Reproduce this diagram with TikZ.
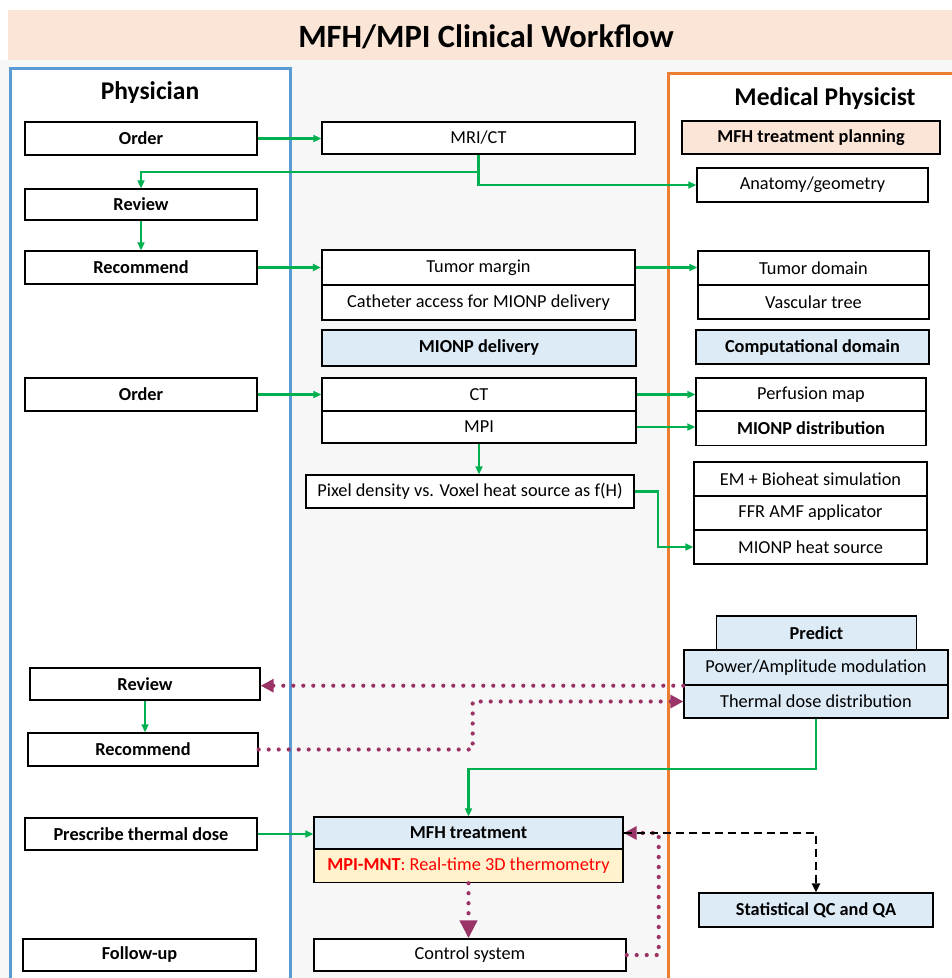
\documentclass[tikz,border=0pt]{standalone}
\usepackage{fontspec}
\setmainfont{Carlito}
\usetikzlibrary{arrows.meta,calc}
\definecolor{peach}{HTML}{FBE5D6}
\definecolor{lblue}{HTML}{DDEBF7}
\definecolor{lyel}{HTML}{FFF2CC}
\definecolor{colblue}{HTML}{5B9BD5}
\definecolor{colorange}{HTML}{ED7D31}
\definecolor{gline}{HTML}{00B050}
\definecolor{pline}{HTML}{9B3466}
\definecolor{bggray}{HTML}{F7F7F7}
\tikzset{
  box/.style={draw=black, line width=1.4pt, fill=white, inner sep=0pt, font=\fontsize{18.3}{20}\selectfont},
  bbox/.style={box, font=\fontsize{18.3}{20}\selectfont\bfseries},
  garrow/.style={draw=gline, line width=2.2pt, -{Triangle[length=8pt,width=7pt]}},
  parrow/.style={draw=pline, line width=4.2pt, line cap=round, dash pattern=on 0pt off 10pt, -{Triangle[length=13pt,width=13pt]}},
  darrow/.style={draw=black, line width=2.2pt, dash pattern=on 8pt off 5pt, -{Triangle[length=9pt,width=8pt]}}
}
\begin{document}
\begin{tikzpicture}[x=1pt,y=-1pt]
\useasboundingbox (0,0) rectangle (952,978);
\fill[white] (0,0) rectangle (952,978);
\fill[bggray] (0,60) rectangle (952,978);
\fill[peach] (8,10) rectangle (952,60);
\node[font=\fontsize{32.5}{36}\selectfont\bfseries] (title) at (486,37) {MFH/MPI Clinical Workflow};
% columns
\fill[white] (10,68) rectangle (290,978);
\draw[colblue, line width=3pt] (10,985) -- (10,68) -- (290,68) -- (290,985);
\fill[white] (668,73) rectangle (952,978);
\draw[colorange, line width=3pt] (668,985) -- (668,73) -- (960,73);
\node[font=\fontsize{25.5}{28}\selectfont\bfseries] (hphys) at (150,93) {Physician};
\node[font=\fontsize{25.5}{28}\selectfont\bfseries] (hmp) at (825,99) {Medical Physicist};
% physician boxes
\node[bbox, minimum width=232pt, minimum height=33pt] (ord1) at (141,138.5) {Order};
\node[bbox, minimum width=232pt, minimum height=31pt] (rev1) at (141,204.5) {Review};
\node[bbox, minimum width=232pt, minimum height=33pt] (rec1) at (141,267.5) {Recommend};
\node[bbox, minimum width=232pt, minimum height=33pt] (ord2) at (141,394.5) {Order};
\node[bbox, minimum width=230pt, minimum height=32pt] (rev2) at (145,684) {Review};
\node[bbox, minimum width=230pt, minimum height=33pt] (rec2) at (143,749.5) {Recommend};
\node[bbox, minimum width=232pt, minimum height=32pt] (pres) at (141,834) {Prescribe thermal dose};
\node[bbox, minimum width=233pt, minimum height=32pt] (fol) at (139.5,955) {Follow-up};
% middle boxes
\node[box, minimum width=313pt, minimum height=32pt] (mri) at (478.5,138) {MRI/CT};
\node[box, line width=2.2pt, minimum width=313pt, minimum height=35pt] (tum) at (478.5,267.5) {Tumor margin};
\node[box, line width=2.2pt, minimum width=313pt, minimum height=35pt] (cath) at (478.5,302.5) {Catheter access for MIONP delivery};
\node[bbox, line width=2.2pt, fill=lblue, minimum width=314pt, minimum height=36pt] (miondel) at (479,348) {MIONP delivery};
\node[box, minimum width=314pt, minimum height=33pt] (ct) at (479,394.5) {CT};
\node[box, minimum width=314pt, minimum height=32pt] (mpi) at (479,427) {MPI};
\node[box, minimum width=328pt, minimum height=33pt] (pix) at (470,491.5) {Pixel density vs. Voxel heat source as f(H)};
\node[bbox, fill=lblue, minimum width=309pt, minimum height=32pt] (mfh) at (468.5,833) {MFH treatment};
\node[box, fill=lyel, minimum width=309pt, minimum height=33pt, text=red] (mnt) at (468.5,866) {\textbf{MPI-MNT}: Real-time 3D thermometry};
\node[box, minimum width=312pt, minimum height=32pt] (ctrl) at (470,955) {Control system};
% right boxes
\node[bbox, fill=peach, minimum width=258pt, minimum height=33pt] (plan) at (811,137.5) {MFH treatment planning};
\node[box, minimum width=231pt, minimum height=34pt] (anat) at (812.5,185) {Anatomy/geometry};
\node[box, minimum width=231pt, minimum height=34pt] (tdom) at (813.5,268) {Tumor domain};
\node[box, minimum width=231pt, minimum height=34pt] (vasc) at (813.5,302) {Vascular tree};
\node[bbox, fill=lblue, minimum width=233pt, minimum height=34pt] (comp) at (812.5,347) {Computational domain};
\node[box, minimum width=230pt, minimum height=33pt] (perf) at (811,394.5) {Perfusion map};
\node[bbox, minimum width=230pt, minimum height=34pt] (miondist) at (811,428.5) {MIONP distribution};
\node[box, minimum width=233pt, minimum height=34pt] (em) at (810.5,479) {EM + Bioheat simulation};
\node[box, minimum width=233pt, minimum height=34pt] (ffr) at (810.5,513) {FFR AMF applicator};
\node[box, minimum width=233pt, minimum height=34pt] (heat) at (810.5,547) {MIONP heat source};
\node[bbox, fill=lblue, minimum width=200pt, minimum height=34pt] (pred) at (816.5,633) {Predict};
\node[box, fill=lblue, minimum width=264pt, minimum height=35pt] (pow) at (816,667.5) {Power/Amplitude modulation};
\node[box, fill=lblue, minimum width=264pt, minimum height=33pt] (therm) at (816,701.5) {Thermal dose distribution};
\node[bbox, fill=lblue, minimum width=234pt, minimum height=34pt] (stat) at (816,910) {Statistical QC and QA};
% green connectors
\draw[garrow] (ord1.east) -- (ord1.east -| mri.west);
\draw[garrow] (mri.south) -- ++(0,17) coordinate (j1) -| (rev1.north);
\draw[garrow] (j1) |- (anat.west);
\draw[garrow] (rev1.south) -- (rev1.south |- rec1.north);
\draw[garrow] (rec1.east) -- (rec1.east -| tum.west);
\draw[garrow] (tum.east) -- (tum.east -| tdom.west);
\draw[garrow] (ord2.east) -- (ord2.east -| ct.west);
\draw[garrow] (ct.east) -- (ct.east -| perf.west);
\draw[garrow] (mpi.east) -- (mpi.east -| miondist.west);
\draw[garrow] (mpi.south) -- (mpi.south |- pix.north);
\draw[garrow] (pix.east) -- ++(23,0) |- (heat.west);
\draw[garrow, line width=1.6pt] (rev2.south) -- (rev2.south |- rec2.north);
\draw[garrow] (therm.south) -- ++(0,50) -| (mfh.north);
\draw[garrow] (pres.east) -- (pres.east -| mfh.west);
% purple dotted connectors
\draw[parrow] (pow.south west) -- (pow.south west -| rev2.east);
\draw[parrow] (rec2.east) -- ++(214,0) |- (therm.west);
\draw[parrow, -{Triangle[length=18pt,width=17pt]}] (mnt.south) -- (mnt.south |- ctrl.north);
\draw[parrow] (ctrl.east) -- ++(32,0) |- (mfh.east);
% dashed
\draw[darrow] (mfh.east) -| (stat.north);
\end{tikzpicture}
\end{document}
